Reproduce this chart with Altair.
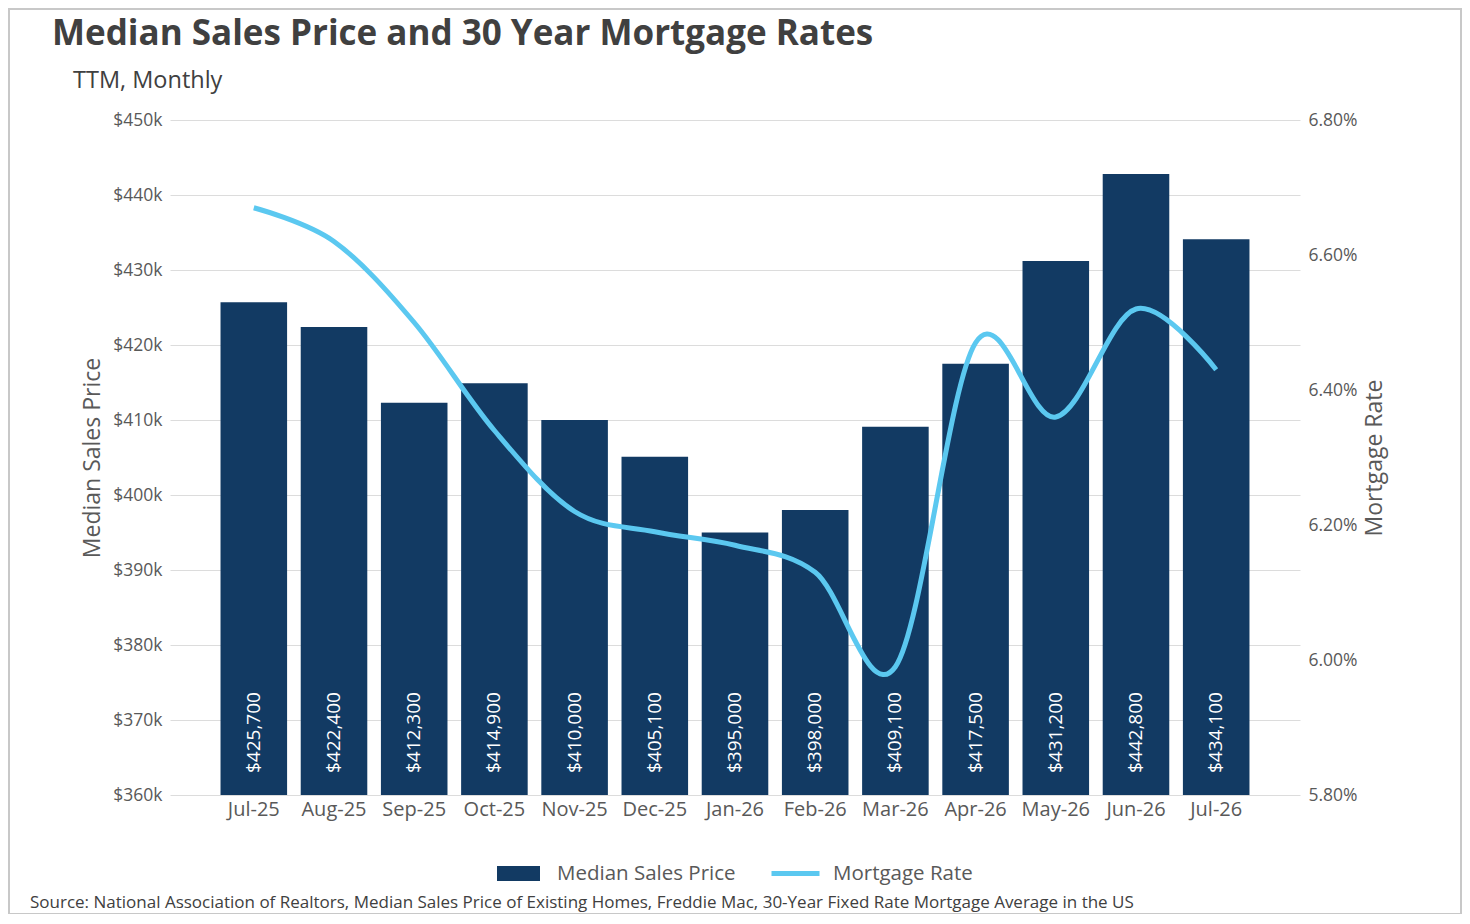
import pandas as pd
import altair as alt

# values
months = ['Jul-25', 'Aug-25', 'Sep-25', 'Oct-25', 'Nov-25', 'Dec-25', 'Jan-26',
          'Feb-26', 'Mar-26', 'Apr-26', 'May-26', 'Jun-26', 'Jul-26']
median_price = [425700, 422400, 412300, 414900, 410000, 405100, 395000,
                398000, 409100, 417500, 431200, 442800, 434100]
mortgage_rate = [6.67, 6.62, 6.50, 6.34, 6.22, 6.19, 6.17,
                 6.13, 5.99, 6.47, 6.36, 6.52, 6.43]

price_ticks = [360000, 370000, 380000, 390000, 400000, 410000, 420000, 430000, 440000, 450000]
rate_ticks = [5.8, 6.0, 6.2, 6.4, 6.6, 6.8]

title_text = 'Median Sales Price and 30 Year Mortgage Rates'
subtitle_text = 'TTM, Monthly'
source_text = ('Source: National Association of Realtors, Median Sales Price of Existing Homes, '
               'Freddie Mac, 30-Year Fixed Rate Mortgage Average in the US')

FONT = 'Open Sans'
NAVY = '#123a63'
SKY = '#5bc8f0'
GREY = '#595959'
DARK = '#404040'
W, H = 1130, 675

df = pd.DataFrame({'month': months, 'price': median_price, 'rate': mortgage_rate})
df['price_label'] = df['price'].map(lambda v: f'${v:,.0f}')
df['bar_series'] = 'Median Sales Price'
df['line_series'] = 'Mortgage Rate'

base = alt.Chart(df)

x_enc = alt.X('month:N', sort=months, title=None,
              scale=alt.Scale(paddingInner=0.17, paddingOuter=0.63),
              axis=alt.Axis(labelAngle=0, labelFontSize=20, labelColor=GREY, labelFont=FONT,
                            labelPadding=4, ticks=False, domain=False, grid=False))

bars = base.mark_bar(clip=True).encode(
    x=x_enc,
    y=alt.Y('price:Q', title='Median Sales Price',
            scale=alt.Scale(domain=[360000, 450000], nice=False, zero=False),
            axis=alt.Axis(values=price_ticks, labelExpr='"$" + datum.value / 1000 + "k"',
                          grid=True, gridColor='#dcdcdc', domain=False, ticks=False,
                          labelFontSize=17.5, labelColor=GREY, labelFont=FONT, labelPadding=8,
                          titleFontSize=23, titleColor=GREY, titleFont=FONT,
                          titleFontWeight='normal', titlePadding=8)),
    color=alt.Color('bar_series:N', scale=alt.Scale(domain=['Median Sales Price'], range=[NAVY]),
                    legend=alt.Legend(orient='none', legendX=327, legendY=732, title=None,
                                      symbolType='M-1,-0.35L1,-0.35L1,0.35L-1,0.35Z',
                                      symbolSize=1849, symbolStrokeWidth=0, symbolOpacity=1,
                                      labelFontSize=20.5, labelColor=GREY, labelFont=FONT,
                                      labelOffset=17, labelLimit=0)),
)

bar_labels = base.mark_text(angle=270, align='left', baseline='middle', dx=22,
                            color='white', fontSize=19, font=FONT).encode(
    x=alt.X('month:N', sort=months),
    y=alt.datum(360000),
    text='price_label:N',
)

rate_line = base.mark_line(interpolate='cardinal', tension=0, strokeWidth=5).encode(
    x=alt.X('month:N', sort=months),
    y=alt.Y('rate:Q', title='Mortgage Rate',
            scale=alt.Scale(domain=[5.8, 6.8], nice=False, zero=False),
            axis=alt.Axis(orient='right', values=rate_ticks,
                          labelExpr="format(datum.value, '.2f') + '%'",
                          grid=False, domain=False, ticks=False,
                          labelFontSize=17.5, labelColor=GREY, labelFont=FONT, labelPadding=8,
                          titleFontSize=23, titleColor=GREY, titleFont=FONT,
                          titleFontWeight='normal', titleAngle=270, titleBaseline='top',
                          titlePadding=6)),
    stroke=alt.Stroke('line_series:N', scale=alt.Scale(domain=['Mortgage Rate'], range=[SKY]),
                      legend=alt.Legend(orient='none', legendX=599, legendY=727, title=None,
                                        symbolType='stroke', symbolSize=2304,
                                        symbolStrokeWidth=5,
                                        labelFontSize=20.5, labelColor=GREY, labelFont=FONT,
                                        labelOffset=11, labelLimit=0)),
)

# frame and the texts around the plot
one = alt.Chart(pd.DataFrame({'k': [0]}))
frame = one.mark_rect(fillOpacity=0, stroke='#c8c8c8', strokeWidth=2).encode(
    x=alt.value(-161), x2=alt.value(W + 161), y=alt.value(-111), y2=alt.value(H + 119))
title = one.mark_text(text=title_text, align='left', baseline='alphabetic', font=FONT,
                      fontSize=35, fontWeight='bold', color=DARK).encode(
    x=alt.value(-118), y=alt.value(-75))
subtitle = one.mark_text(text=subtitle_text, align='left', baseline='alphabetic', font=FONT,
                         fontSize=23.5, color=DARK).encode(
    x=alt.value(-97), y=alt.value(-32))
source = one.mark_text(text=source_text, align='left', baseline='alphabetic', font=FONT,
                       fontSize=17, color=DARK).encode(
    x=alt.value(-140), y=alt.value(H + 113))

chart = alt.layer(
    alt.layer(bars, bar_labels), rate_line, frame, title, subtitle, source
).resolve_scale(y='independent').properties(
    width=W, height=H,
    autosize='none',
    padding={'left': 162, 'top': 112, 'right': 162, 'bottom': 119},
).configure_view(stroke=None)

chart.save('out.html', embed_options={'renderer': 'svg', 'actions': False})
